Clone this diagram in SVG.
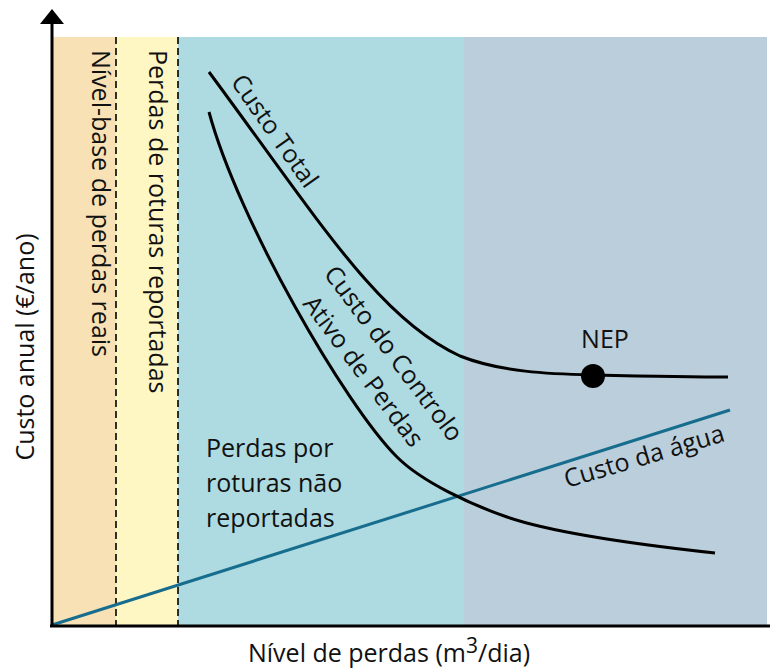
<svg xmlns="http://www.w3.org/2000/svg" width="770" height="669" viewBox="0 0 770 669">
<style>
text { font-family: "Open Sans", "Noto Sans", "DejaVu Sans", sans-serif; fill: #111; font-size: 25px; }
.curve { fill: none; stroke: #000; stroke-width: 3; }
.dash { stroke: #000; stroke-width: 1.6; stroke-dasharray: 7 4; }
</style>
<g id="background">
<rect x="53" y="37" width="63" height="589" fill="#F7E1B5"/>
<rect x="116" y="37" width="62" height="589" fill="#FFF7C3"/>
<rect x="178" y="37" width="286" height="589" fill="#AEDAE1"/>
<rect x="464" y="37" width="303" height="589" fill="#BBCEDB"/>
</g>
<g id="bands">
<line class="dash" x1="116" y1="37" x2="116" y2="625"/>
<line class="dash" x1="178" y1="37" x2="178" y2="625"/>
<text transform="translate(92,50) rotate(90)">Nível-base de perdas reais</text>
<text transform="translate(149,50) rotate(90)">Perdas de roturas reportadas</text>
</g>
<g id="connectors">
<line x1="52" y1="625" x2="730" y2="410" stroke="#176D8E" stroke-width="3"/>
<path class="curve" d="M209,72 C320,222 380,320 460,356 C500,372 550,374 592,375 C640,376 690,377 728,377"/>
<path class="curve" d="M209,112 C238,220 345,405 397,457 C422,482 472,505 507,517 C559,535 660,547 715,553"/>
</g>
<g id="custo-total">
<text transform="translate(230,82) rotate(55)">Custo Total</text>
</g>
<g id="custo-controlo">
<text transform="translate(323,274) rotate(53)">Custo do Controlo</text>
<text transform="translate(302,304) rotate(53)">Ativo de Perdas</text>
</g>
<g id="custo-agua">
<text transform="translate(567,488) rotate(-16.5)">Custo da água</text>
</g>
<g id="nep">
<circle cx="593" cy="376" r="12" fill="#000"/>
<text x="605" y="348" text-anchor="middle">NEP</text>
</g>
<g id="perdas-nao-reportadas">
<text x="206" y="457" font-size="24">Perdas por</text>
<text x="206" y="492" font-size="24">roturas não</text>
<text x="206" y="527" font-size="24">reportadas</text>
</g>
<g id="axes">
<line x1="52" y1="627" x2="52" y2="22" stroke="#000" stroke-width="3"/>
<polygon points="40,24 64,24 52,9" fill="#000"/>
<line x1="50" y1="626" x2="770" y2="626" stroke="#000" stroke-width="3"/>
<text transform="translate(34,347) rotate(-90)" text-anchor="middle">Custo anual (€/ano)</text>
<text x="389" y="662" text-anchor="middle">Nível de perdas (m<tspan dy="-9" font-size="21">3</tspan><tspan dy="9">/dia)</tspan></text>
</g>
</svg>
